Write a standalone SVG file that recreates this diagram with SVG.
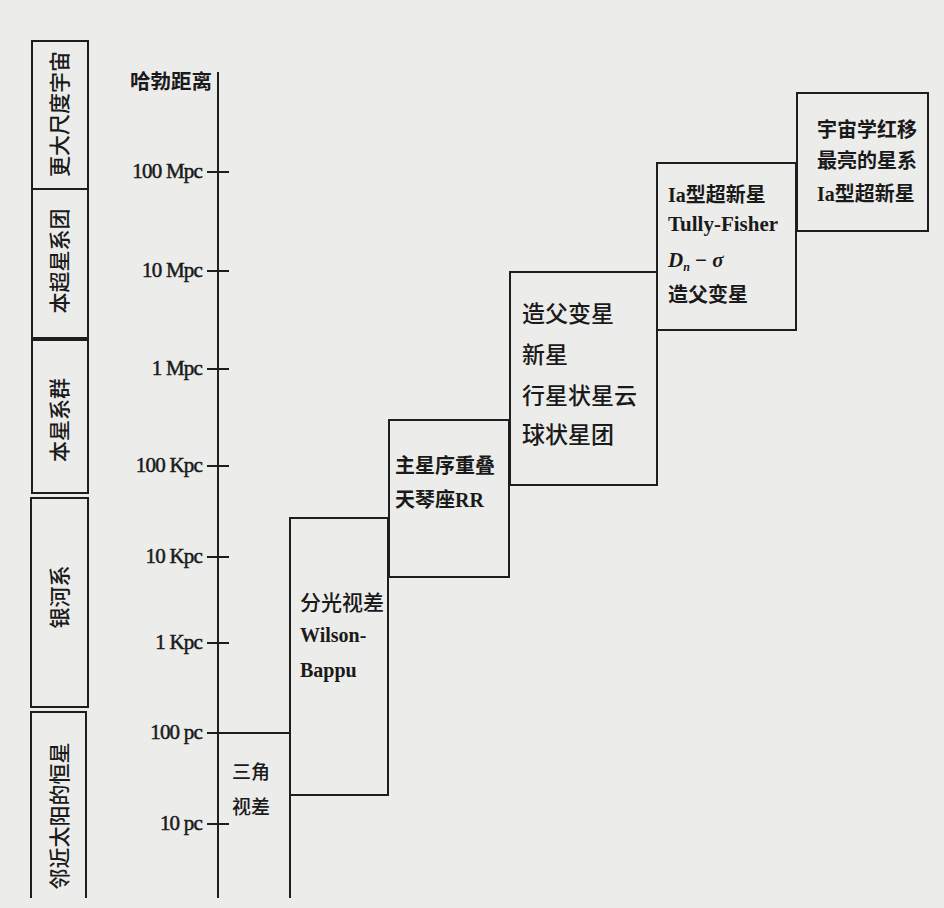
<svg xmlns="http://www.w3.org/2000/svg" width="944" height="908" viewBox="0 0 944 908">
<style>
.ln{stroke:#1e1e1e;stroke-width:2;fill:none}
.cn{font-family:"Noto Sans CJK SC","Noto Sans",sans-serif;fill:#1a1a1a;font-size:20px;font-weight:bold}
.cb{font-family:"Noto Sans CJK SC","Noto Sans",sans-serif;fill:#1a1a1a;font-size:23px;font-weight:500}
.ax{font-family:"Liberation Serif","Noto Sans CJK SC",serif;fill:#1a1a1a;stroke:#1a1a1a;stroke-width:0.5;font-size:21px;text-anchor:end;letter-spacing:-0.8px}
.lt{font-family:"Liberation Serif","Noto Sans CJK SC",serif;fill:#1a1a1a;font-size:20px;font-weight:bold}
.vt{font-family:"Noto Sans CJK SC","Noto Sans",sans-serif;fill:#1a1a1a;font-size:21px;font-weight:500;text-anchor:middle;dominant-baseline:central}
</style>
<rect width="944" height="908" fill="#ececea"/>
<g id="scale-column">
<g id="band-larger"><rect class="ln" x="32" y="41" width="56" height="148"/><text class="vt" transform="translate(58,114) rotate(-90)">更大尺度宇宙</text></g>
<g id="band-supercluster"><rect class="ln" x="32" y="189" width="56" height="149"/><text class="vt" transform="translate(58,261) rotate(-90)">本超星系团</text></g>
<g id="band-local-group"><rect class="ln" x="32" y="340" width="56" height="153"/><text class="vt" transform="translate(58,420) rotate(-90)">本星系群</text></g>
<g id="band-milky-way"><rect class="ln" x="31" y="498" width="57" height="209"/><text class="vt" transform="translate(58,597) rotate(-90)">银河系</text></g>
<g id="band-nearby"><path class="ln" d="M31,898 V712 H86 V898"/><text class="vt" transform="translate(58,816) rotate(-90)">邻近太阳的恒星</text></g>
</g>
<g id="axis">
<path class="ln" d="M218,72 V898"/>
<path class="ln" d="M207,172 H229 M207,271 H229 M207,369 H229 M207,466 H229 M207,557 H229 M207,643 H229 M207,733 H218 M207,824 H229"/>
<text class="cn" x="212" y="89" text-anchor="end" style="font-size:20.5px">哈勃距离</text>
<text class="ax" x="202" y="178">100 Mpc</text>
<text class="ax" x="202" y="277">10 Mpc</text>
<text class="ax" x="202" y="375">1 Mpc</text>
<text class="ax" x="202" y="472">100 Kpc</text>
<text class="ax" x="202" y="563">10 Kpc</text>
<text class="ax" x="202" y="649">1 Kpc</text>
<text class="ax" x="202" y="739">100 pc</text>
<text class="ax" x="202" y="830">10 pc</text>
</g>
<g id="connectors">
<path class="ln" d="M218,733 H290"/>
</g>
<g id="box-trig">
<path class="ln" d="M290,733 V898"/>
<text class="cn" x="232" y="779" style="font-size:19px;font-weight:500">三角</text>
<text class="cn" x="232" y="814" style="font-size:19px;font-weight:500">视差</text>
</g>
<g id="box-spectroscopic">
<rect class="ln" x="290" y="518" width="98" height="277"/>
<text class="cn" x="300" y="610" style="font-weight:500;font-size:21px">分光视差</text>
<text class="lt" x="300" y="642">Wilson-</text>
<text class="lt" x="300" y="677">Bappu</text>
</g>
<g id="box-main-sequence">
<rect class="ln" x="389" y="420" width="120" height="157"/>
<text class="cn" x="395" y="473">主星序重叠</text>
<text class="cn" x="395" y="507">天琴座<tspan class="lt">RR</tspan></text>
</g>
<g id="box-cepheids">
<rect class="ln" x="510" y="272" width="147" height="213"/>
<text class="cb" x="522" y="322">造父变星</text>
<text class="cb" x="522" y="363">新星</text>
<text class="cb" x="522" y="404">行星状星云</text>
<text class="cb" x="522" y="443">球状星团</text>
</g>
<g id="box-supernovae">
<rect class="ln" x="657" y="163" width="139" height="167"/>
<text class="cn" x="668" y="202"><tspan class="lt">Ia</tspan>型超新星</text>
<text class="lt" x="668" y="231" style="font-size:21px">Tully-Fisher</text>
<text class="lt" x="668" y="267" style="font-style:italic;font-size:21px">D<tspan dy="4" style="font-size:12px">n</tspan><tspan dy="-4" style="font-style:normal"> −</tspan> σ</text>
<text class="cn" x="668" y="302">造父变星</text>
</g>
<g id="box-redshift">
<rect class="ln" x="797" y="93" width="131" height="138"/>
<text class="cn" x="817" y="137">宇宙学红移</text>
<text class="cn" x="817" y="168">最亮的星系</text>
<text class="cn" x="817" y="201"><tspan class="lt">Ia</tspan>型超新星</text>
</g>
</svg>
